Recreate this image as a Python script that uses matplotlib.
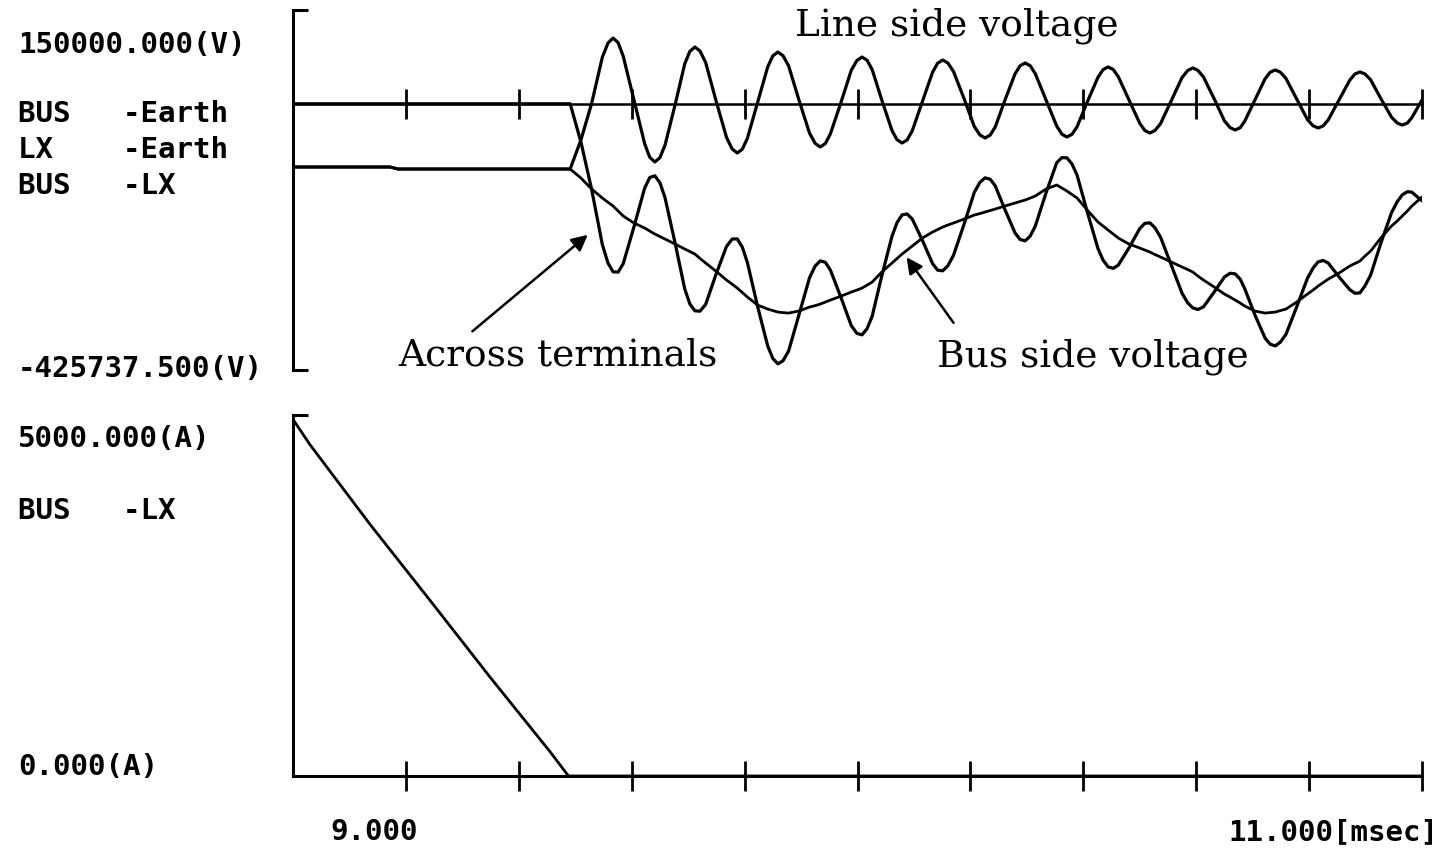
import matplotlib
matplotlib.use("Agg")
import matplotlib.pyplot as plt

W, H = 1441, 855

# time in msec (one row per half cycle of the line side ringing)
t = [9.000, 9.172, 9.186, 9.491, 9.510, 9.529, 9.548,
     9.558, 9.567, 9.576, 9.585, 9.604, 9.623,
     9.632, 9.641, 9.650, 9.659, 9.677, 9.694,
     9.703, 9.712, 9.721, 9.731, 9.749, 9.768,
     9.778, 9.787, 9.796, 9.805, 9.823, 9.841,
     9.850, 9.859, 9.868, 9.878, 9.896, 9.915,
     9.925, 9.934, 9.943, 9.952, 9.971, 9.989,
     9.999, 10.008, 10.017, 10.026, 10.043, 10.061,
     10.070, 10.079, 10.088, 10.097, 10.115, 10.133,
     10.142, 10.151, 10.160, 10.170, 10.189, 10.207,
     10.217, 10.226, 10.235, 10.244, 10.261, 10.279,
     10.288, 10.297, 10.306, 10.315, 10.334, 10.353,
     10.362, 10.371, 10.380, 10.389, 10.407, 10.426,
     10.435, 10.444, 10.453, 10.462, 10.481, 10.500,
     10.509, 10.518, 10.527, 10.537, 10.556, 10.575,
     10.585, 10.594, 10.603, 10.613, 10.632, 10.650,
     10.660, 10.669, 10.678, 10.686, 10.704, 10.722,
     10.731, 10.740, 10.749, 10.759, 10.778, 10.797,
     10.807, 10.816, 10.825, 10.834, 10.853, 10.872,
     10.881, 10.890, 10.899, 10.909, 10.927, 10.946,
     10.956, 10.965, 10.974, 10.982, 11.000]

# LX - Earth (kV)
line_kv = [-101.1, -101.1, -104.3, -104.3, -57.9, 0.5, 74.5,
           97.2, 105.2, 97.7, 76.1, 6.1, -64.0,
           -85.6, -93.1, -86.1, -66.2, -1.1, 64.0,
           83.8, 90.8, 84.4, 66.1, 6.1, -53.9,
           -72.3, -78.7, -72.6, -55.0, 2.1, 59.2,
           76.7, 82.8, 77.0, 60.6, 6.9, -46.9,
           -63.3, -69.1, -63.6, -48.0, 2.9, 53.7,
           69.3, 74.8, 69.6, 54.7, 6.1, -42.5,
           -57.5, -62.7, -57.7, -43.2, 3.7, 50.5,
           65.0, 70.0, 65.3, 51.8, 7.7, -36.5,
           -50.0, -54.7, -50.1, -37.1, 5.3, 47.7,
           60.7, 65.3, 60.8, 48.0, 6.1, -35.8,
           -48.6, -53.1, -48.8, -36.6, 2.9, 42.4,
           54.6, 58.9, 54.9, 43.3, 6.1, -31.2,
           -42.7, -46.7, -42.7, -31.5, 5.3, 42.1,
           53.3, 57.3, 53.5, 42.7, 7.7, -27.3,
           -38.1, -41.9, -38.2, -27.8, 6.1, 40.0,
           50.5, 54.1, 50.6, 40.5, 7.7, -25.1,
           -35.2, -38.7, -35.3, -25.6, 6.1, 37.7,
           47.5, 50.9, 47.7, 38.4, 8.5, -21.4,
           -30.7, -33.9, -30.9, -22.2, 6.1]

# BUS - Earth (kV)
bus_kv = [-101.1, -101.1, -104.3, -104.3, -118.7, -136.3, -150.7,
          -157.5, -163.5, -171.5, -179.5, -190.7, -198.7,
          -203.5, -208.3, -212.3, -216.3, -224.3, -232.3,
          -236.3, -240.3, -247.3, -254.7, -267.5, -281.9,
          -288.6, -294.7, -301.9, -309.1, -321.9, -328.3,
          -330.7, -333.1, -334.0, -334.7, -331.5, -325.1,
          -322.8, -320.3, -317.1, -313.9, -307.5, -301.1,
          -297.9, -294.7, -290.0, -285.1, -269.1, -254.7,
          -247.5, -240.3, -233.9, -227.5, -214.7, -205.1,
          -201.1, -197.1, -193.9, -190.7, -184.3, -177.9,
          -175.5, -173.1, -170.7, -168.3, -163.5, -158.7,
          -156.3, -153.9, -150.7, -147.5, -136.3, -129.9,
          -134.7, -139.5, -145.1, -150.7, -169.9, -189.1,
          -195.5, -201.9, -208.3, -214.7, -224.3, -230.7,
          -233.9, -237.1, -241.1, -245.1, -253.1, -261.1,
          -265.1, -269.1, -275.5, -281.9, -293.1, -304.3,
          -309.1, -313.9, -318.7, -323.5, -331.5, -334.7,
          -333.9, -333.1, -330.7, -328.3, -317.1, -304.3,
          -297.9, -291.5, -285.9, -280.3, -270.7, -259.5,
          -255.5, -251.5, -243.5, -235.5, -214.7, -195.5,
          -187.5, -179.5, -171.5, -163.5, -149.1]

# BUS - LX, across terminals (kV)
across_kv = [0.0, 0.0, 0.0, 0.0, -60.8, -136.8, -225.2,
             -254.7, -268.7, -269.2, -255.6, -196.8, -134.7,
             -117.9, -115.2, -126.2, -150.1, -223.2, -296.3,
             -320.1, -331.1, -331.7, -320.8, -273.6, -228.0,
             -216.3, -216.0, -229.3, -254.1, -324.0, -387.5,
             -407.4, -415.9, -411.0, -395.3, -338.4, -278.2,
             -259.5, -251.2, -253.5, -265.9, -310.4, -354.8,
             -367.2, -369.5, -359.6, -339.8, -275.2, -212.2,
             -190.0, -177.6, -176.2, -184.3, -218.4, -255.6,
             -266.1, -267.1, -259.2, -242.5, -192.0, -141.4,
             -125.5, -118.4, -120.6, -131.2, -168.8, -206.4,
             -217.0, -219.2, -211.5, -195.5, -142.4, -94.1,
             -86.1, -86.4, -96.3, -114.1, -172.8, -231.5,
             -250.1, -260.8, -263.2, -258.0, -230.4, -199.5,
             -191.2, -190.4, -198.4, -213.6, -258.4, -303.2,
             -318.4, -326.4, -329.0, -324.6, -300.8, -277.0,
             -271.0, -272.0, -280.5, -295.7, -337.6, -374.7,
             -384.4, -387.2, -381.3, -368.8, -324.8, -279.2,
             -262.7, -252.8, -250.6, -254.7, -276.8, -297.2,
             -303.0, -302.4, -291.2, -273.9, -223.2, -174.1,
             -156.8, -145.6, -140.6, -141.3, -155.2]

# BUS - LX current (A)
t_amp = [9.000, 9.030, 9.136, 9.243, 9.349, 9.455, 9.488, 11.000]
amp = [4940, 4590, 3490, 2430, 1370, 340, 0, 0]

v_max, v_min = 150000.0, -425737.5
a_max, a_min = 5000.0, 0.0
t_start, t_end = 9.0, 11.0
tick_step = 0.2


def fx(x):
    return x / W


def fy(y):
    return 1 - y / H


fig = plt.figure(figsize=(W / 100, H / 100), dpi=100)
fig.patch.set_facecolor("white")

ticks = [t_start + tick_step * i for i in range(11)]
trace = dict(color="black", solid_joinstyle="round", solid_capstyle="round")

# ---- voltage panel
ax1 = fig.add_axes([fx(293), fy(370), fx(1422) - fx(293), (370 - 10) / H])
ax1.plot(t, line_kv, lw=2.3, **trace)
ax1.plot(t, bus_kv, lw=2.0, **trace)
ax1.plot(t, across_kv, lw=2.3, **trace)
ax1.set_xlim(t_start, t_end)
ax1.set_ylim(v_min / 1000, v_max / 1000)
for s in ["top", "right"]:
    ax1.spines[s].set_visible(False)
ax1.spines["left"].set_linewidth(2.2)
ax1.spines["bottom"].set_position(("data", 0))
ax1.spines["bottom"].set_linewidth(1.8)
ax1.set_xticks(ticks[1:])
ax1.set_xticklabels([])
ax1.tick_params(axis="x", direction="inout", length=22, width=2)
ax1.set_yticks([v_min / 1000, v_max / 1000])
ax1.set_yticklabels([])
ax1.tick_params(axis="y", direction="in", length=11, width=2.2)

# ---- current panel
ax2 = fig.add_axes([fx(293), fy(776), fx(1422) - fx(293), (776 - 415) / H])
ax2.plot(t_amp, amp, lw=2.0, **trace)
ax2.set_xlim(t_start, t_end)
ax2.set_ylim(a_min, a_max)
for s in ["top", "right"]:
    ax2.spines[s].set_visible(False)
ax2.spines["left"].set_linewidth(2.2)
ax2.spines["bottom"].set_linewidth(2.2)
ax2.set_xticks(ticks[1:])
ax2.set_xticklabels([])
ax2.tick_params(axis="x", direction="inout", length=22, width=2)
ax2.set_yticks([a_max])
ax2.set_yticklabels([])
ax2.tick_params(axis="y", direction="in", length=11, width=2.2)

# ---- left labels
mono = dict(family="DejaVu Sans Mono", fontsize=21, fontweight="bold",
            va="center", ha="left")
fig.text(fx(18), fy(45), f"{v_max:.3f}(V)", **mono)
fig.text(fx(18), fy(114), "BUS   -Earth", **mono)
fig.text(fx(18), fy(150), "LX    -Earth", **mono)
fig.text(fx(18), fy(186), "BUS   -LX", **mono)
fig.text(fx(18), fy(369), f"{v_min:.3f}(V)", **mono)
fig.text(fx(18), fy(439), f"{a_max:.3f}(A)", **mono)
fig.text(fx(18), fy(511), "BUS   -LX", **mono)
fig.text(fx(18), fy(767), f"{a_min:.3f}(A)", **mono)
fig.text(fx(330), fy(832), f"{t_start:.3f}", **mono)
fig.text(fx(1228), fy(832), f"{t_end:.3f}[msec]", **mono)

# ---- annotations
serif = dict(family="DejaVu Serif", fontsize=27, va="center", ha="left")
fig.text(fx(795), fy(26), "Line side voltage", **serif)
fig.text(fx(398), fy(355), "Across terminals", **serif)
fig.text(fx(937), fy(357), "Bus side voltage", **serif)

arrow = dict(arrowstyle="-|>", color="black", lw=1.8, mutation_scale=24)
ax1.annotate("", xy=(9.526, -206.7), xytext=(9.314, -366.7),
             arrowprops=arrow, annotation_clip=False)
ax1.annotate("", xy=(10.084, -241.9), xytext=(10.173, -353.9),
             arrowprops=arrow, annotation_clip=False)

fig.savefig("out.png", dpi=100, facecolor="white")
